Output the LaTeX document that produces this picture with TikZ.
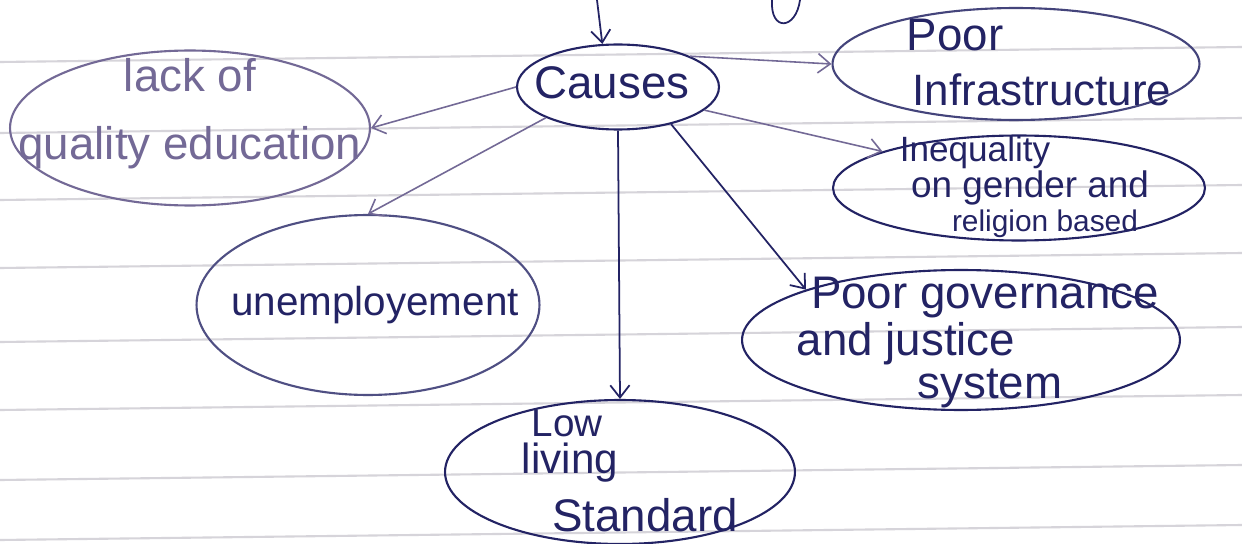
\documentclass[tikz,border=0pt]{standalone}
\usepackage{fontspec}
\setmainfont{Liberation Sans}
\usetikzlibrary{shapes.geometric,arrows.meta}
\definecolor{ink}{RGB}{35,35,100}
\definecolor{inkl}{RGB}{115,105,150}
\definecolor{ruled}{RGB}{214,212,218}
\begin{document}
\begin{tikzpicture}[x=0.02cm,y=-0.02cm,
  bubble/.style={ellipse,draw=ink,line width=1.2pt,inner sep=0pt},
  bubblel/.style={bubble,draw=inkl},
  txt/.style={text=ink,inner sep=0pt,font=\fontsize{26}{28}\selectfont},
  arr/.style={draw=ink,line width=1pt,-{Straight Barb[length=7pt,width=11pt]}},
  arrl/.style={arr,draw=inkl,line width=0.9pt}]
\useasboundingbox (0,0) rectangle (1242,544);
\fill[white] (0,0) rectangle (1242,544);
% ruled paper lines
\foreach \yy in {62,133,200,268,342,410,480,540}
  \draw[ruled,line width=1.2pt] (0,\yy) -- (1242,{\yy-15});

% bubbles
\node[bubble,minimum width=4.04cm,minimum height=1.7cm] (causes) at (618,87) {};
\node[bubblel,minimum width=7.2cm,minimum height=3.1cm] (lackq) at (190,128) {};
\node[bubble,draw=ink!85,minimum width=7.34cm,minimum height=2.24cm] (infra) at (1016,64) {};
\node[bubble,minimum width=7.44cm,minimum height=2.1cm] (ineq) at (1019,188) {};
\node[bubble,draw=ink!80,minimum width=6.86cm,minimum height=3.6cm] (unemp) at (368,305) {};
\node[bubble,minimum width=8.76cm,minimum height=2.8cm] (gov) at (961,340) {};
\node[bubble,minimum width=7.0cm,minimum height=2.88cm] (low) at (620,472) {};

% texts
\node[txt] (tcauses) at (612,83) {Causes};
\node[txt,text=inkl] (tlack1) at (190,75) {lack of};
\node[txt,text=inkl] (tlack2) at (190,148) {quality education};
\node[txt] (tinfra1) at (955,35) {Poor};
\node[txt,font=\fontsize{25}{27}\selectfont] (tinfra2) at (1042,90) {Infrastructure};
\node[txt,font=\fontsize{20}{22}\selectfont] (tineq1) at (975,152) {Inequality};
\node[txt,font=\fontsize{21}{23}\selectfont] (tineq2) at (1030,188) {on gender and};
\node[txt,font=\fontsize{17}{19}\selectfont] (tineq3) at (1045,224) {religion based};
\node[txt,font=\fontsize{23}{25}\selectfont] (tunemp) at (375,305) {unemployement};
\node[txt] (tgov1) at (985,298) {Poor governance};
\node[txt] (tgov2) at (906,344) {and justice};
\node[txt] (tgov3) at (990,388) {system};
\node[txt,font=\fontsize{22}{24}\selectfont] (tlow1) at (567,423) {Low};
\node[txt,font=\fontsize{24}{26}\selectfont] (tlow2) at (570,463) {living};
\node[txt] (tlow3) at (645,515) {Standard};

% connectors
\coordinate (top) at (597,0);
\draw[arr] (top) -- (causes.110);
\draw[ink,line width=1pt] (772,0) .. controls (770,32) and (796,30) .. (800,0);
\draw[arrl] (causes.north east) -- (infra.west);
\draw[arrl] (causes.west) -- (lackq.east);
\draw[arrl] (causes.south west) -- (unemp.north);
\draw[arr] (causes.south) -- (low.north);
\draw[arr] (causes.-35) -- (gov.162);
\draw[arrl] (causes.-15) -- (ineq.165);
\end{tikzpicture}
\end{document}
